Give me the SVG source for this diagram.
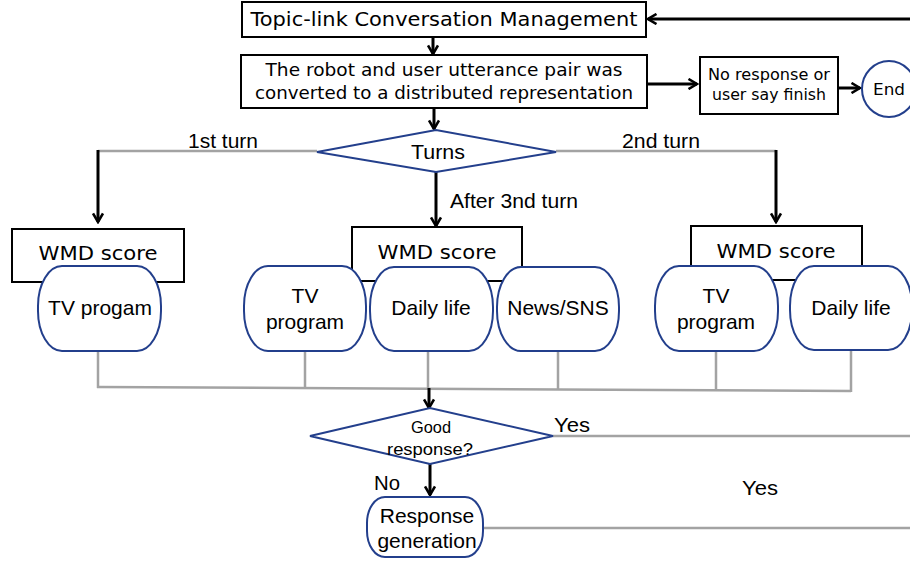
<svg xmlns="http://www.w3.org/2000/svg" width="910" height="562" viewBox="0 0 910 562">
<defs>
<style>
.box{fill:#fff;stroke:#000;stroke-width:2}
.pill{fill:#fff;stroke:#233f8c;stroke-width:2}
.dia{fill:#fff;stroke:#233f8c;stroke-width:2}
.v{font-family:"DejaVu Sans",Verdana,sans-serif;fill:#000;text-anchor:middle}
.a{font-family:"Liberation Sans",Arial,sans-serif;fill:#000;text-anchor:middle}
.arr{stroke:#000;stroke-width:3;fill:none;marker-end:url(#ah)}
.gray{stroke:#a3a3a3;stroke-width:2.5;fill:none}
</style>
<marker id="ah" viewBox="0 0 12 12" markerWidth="12" markerHeight="12" refX="10.5" refY="6" orient="auto" markerUnits="userSpaceOnUse">
<path d="M2,1 L10.5,6 L2,11" fill="none" stroke="#000" stroke-width="2.6"/>
</marker>
</defs>
<rect width="910" height="562" fill="#fff"/>

<g id="connectors">
<line class="arr" x1="910" y1="19" x2="648" y2="19"/>
<line class="arr" x1="433" y1="37" x2="433" y2="54"/>
<line class="arr" x1="647" y1="84" x2="697" y2="84"/>
<line class="arr" x1="838" y1="88" x2="860" y2="88"/>
<line class="arr" x1="434" y1="108" x2="434" y2="129"/>
<polyline class="gray" points="317,151 98,151"/>
<polyline class="gray" points="556,151 776,151"/>
<line class="arr" x1="98" y1="150" x2="98" y2="222"/>
<line class="arr" x1="436" y1="172" x2="436" y2="226"/>
<line class="arr" x1="776" y1="150" x2="776" y2="222"/>
<line class="gray" x1="98" y1="351" x2="98" y2="388"/>
<line class="gray" x1="305" y1="351" x2="305" y2="389"/>
<line class="gray" x1="428" y1="351" x2="428" y2="389"/>
<line class="gray" x1="558" y1="351" x2="558" y2="390"/>
<line class="gray" x1="716" y1="351" x2="716" y2="391"/>
<line class="gray" x1="851" y1="350" x2="851" y2="392"/>
<polyline class="gray" points="97,387 851,391"/>
<line class="arr" x1="429" y1="388" x2="429" y2="408"/>
<line class="gray" x1="553" y1="436" x2="910" y2="436"/>
<line class="arr" x1="430" y1="464" x2="430" y2="495"/>
<line class="gray" x1="483" y1="528" x2="910" y2="528"/>
<text class="a" x="223" y="148" font-size="21" textLength="70" lengthAdjust="spacingAndGlyphs">1st turn</text>
<text class="a" x="661" y="148" font-size="21" textLength="78" lengthAdjust="spacingAndGlyphs">2nd turn</text>
<text class="a" x="514" y="208" font-size="21" textLength="128" lengthAdjust="spacingAndGlyphs">After 3nd turn</text>
<text class="a" x="572" y="432" font-size="21" textLength="36" lengthAdjust="spacingAndGlyphs">Yes</text>
<text class="a" x="387" y="490" font-size="21" textLength="26" lengthAdjust="spacingAndGlyphs">No</text>
<text class="a" x="760" y="495" font-size="21" textLength="36" lengthAdjust="spacingAndGlyphs">Yes</text>
</g>

<g id="topic">
<rect class="box" x="242" y="2" width="404" height="35"/>
<text class="v" x="444" y="26" font-size="20" textLength="387" lengthAdjust="spacingAndGlyphs">Topic-link Conversation Management</text>
</g>
<g id="convert">
<rect class="box" x="241" y="55" width="406" height="53"/>
<text class="v" x="444" y="76" font-size="17" textLength="357" lengthAdjust="spacingAndGlyphs">The robot and user utterance pair was</text>
<text class="v" x="444" y="99" font-size="17" textLength="378" lengthAdjust="spacingAndGlyphs">converted to a distributed representation</text>
</g>
<g id="noresp">
<rect class="box" x="700" y="57" width="138" height="57"/>
<text class="v" x="769" y="80" font-size="15" textLength="122" lengthAdjust="spacingAndGlyphs">No response or</text>
<text class="v" x="769" y="100" font-size="15" textLength="114" lengthAdjust="spacingAndGlyphs">user say finish</text>
</g>
<g id="end">
<ellipse class="pill" cx="889" cy="89" rx="27" ry="28"/>
<text class="v" x="889" y="95" font-size="16" textLength="32" lengthAdjust="spacingAndGlyphs">End</text>
</g>
<g id="turns">
<polygon class="dia" points="317,152 436,130 556,152 436,172"/>
<text class="a" x="438" y="159" font-size="21" textLength="54" lengthAdjust="spacingAndGlyphs">Turns</text>
</g>

<g id="wmd1">
<rect class="box" x="12" y="229" width="172" height="53"/>
<text class="v" x="98" y="260" font-size="20" textLength="119" lengthAdjust="spacingAndGlyphs">WMD score</text>
</g>
<g id="wmd2">
<rect class="box" x="352" y="227" width="170" height="54"/>
<text class="v" x="437" y="259" font-size="20" textLength="119" lengthAdjust="spacingAndGlyphs">WMD score</text>
</g>
<g id="wmd3">
<rect class="box" x="691" y="226" width="171" height="54"/>
<text class="v" x="776" y="258" font-size="20" textLength="119" lengthAdjust="spacingAndGlyphs">WMD score</text>
</g>

<g id="p1">
<rect class="pill" x="38" y="266" width="123" height="85" rx="24" ry="40"/>
<text class="a" x="100" y="315" font-size="21">TV progam</text>
</g>
<g id="p2">
<rect class="pill" x="244" y="266" width="122" height="85" rx="24" ry="40"/>
<text class="a" x="305" y="303" font-size="21">TV</text>
<text class="a" x="305" y="329" font-size="21">program</text>
</g>
<g id="p3">
<rect class="pill" x="370" y="267" width="123" height="84" rx="24" ry="40"/>
<text class="a" x="431" y="315" font-size="21">Daily life</text>
</g>
<g id="p4">
<rect class="pill" x="497" y="267" width="122" height="84" rx="24" ry="40"/>
<text class="a" x="558" y="315" font-size="21">News/SNS</text>
</g>
<g id="p5">
<rect class="pill" x="655" y="266" width="123" height="85" rx="24" ry="40"/>
<text class="a" x="716" y="303" font-size="21">TV</text>
<text class="a" x="716" y="329" font-size="21">program</text>
</g>
<g id="p6">
<rect class="pill" x="790" y="266" width="122" height="84" rx="24" ry="40"/>
<text class="a" x="851" y="315" font-size="21">Daily life</text>
</g>

<g id="good">
<polygon class="dia" points="310,436 430,408 553,436 430,464"/>
<text class="a" x="431" y="433" font-size="17" textLength="40" lengthAdjust="spacingAndGlyphs">Good</text>
<text class="a" x="430" y="455" font-size="17" textLength="86" lengthAdjust="spacingAndGlyphs">response?</text>
</g>
<g id="gen">
<rect class="pill" x="367" y="497" width="116" height="60" rx="18" ry="26"/>
<text class="a" x="427" y="523" font-size="21">Response</text>
<text class="a" x="427" y="548" font-size="21">generation</text>
</g>
</svg>
